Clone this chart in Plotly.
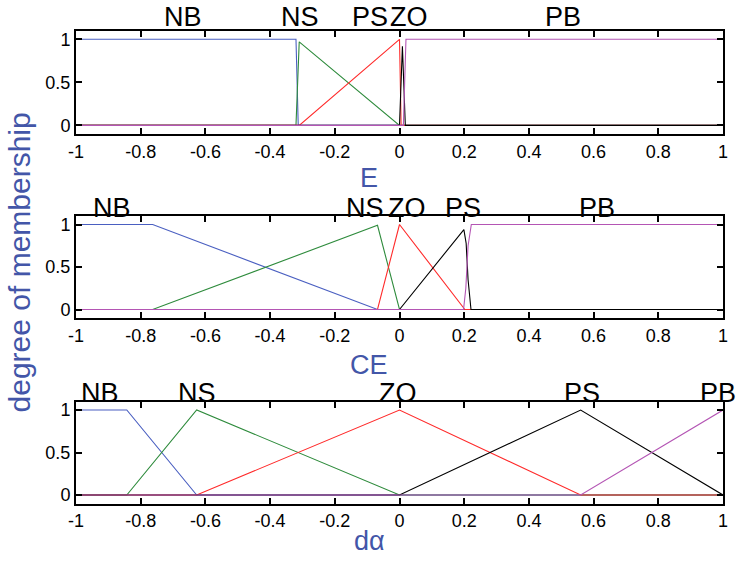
import plotly.graph_objects as go

# ---------------- data ----------------
x_ticks = [-1, -0.8, -0.6, -0.4, -0.2, 0, 0.2, 0.4, 0.6, 0.8, 1]
x_tick_text = ["-1", "-0.8", "-0.6", "-0.4", "-0.2", "0", "0.2", "0.4", "0.6", "0.8", "1"]
y_ticks = [0, 0.5, 1]
y_tick_text = ["0", "0.5", "1"]

# Panel 1: E
E_NB_x = [-1, -0.32, -0.313, 1];            E_NB_y = [1, 1, 0, 0]
E_NS_x = [-1, -0.32, -0.31, 0, 1];          E_NS_y = [0, 0, 0.97, 0, 0]
E_ZO_x = [-1, -0.31, 0, 0.005, 1];          E_ZO_y = [0, 0, 1, 0, 0]
E_PS_x = [-1, 0, 0.009, 0.018, 1];          E_PS_y = [0, 0, 0.92, 0, 0]
E_PB_x = [-1, 0.012, 0.02, 1];              E_PB_y = [0, 0, 1, 1]
E_labels = ["NB", "NS", "PS", "ZO", "PB"]
E_label_x = [-0.67, -0.307, -0.091, 0.029, 0.505]

# Panel 2: CE
CE_NB_x = [-1, -0.763, -0.068, 1];          CE_NB_y = [1, 1, 0, 0]
CE_NS_x = [-1, -0.763, -0.068, 0, 1];       CE_NS_y = [0, 0, 0.99, 0, 0]
CE_ZO_x = [-1, -0.068, 0, 0.202, 1];        CE_ZO_y = [0, 0, 1, 0, 0]
CE_PS_x = [-1, 0, 0.199, 0.206, 0.212, 0.221, 1]; CE_PS_y = [0, 0, 0.94, 0.78, 0.35, 0, 0]
CE_PB_x = [-1, 0.198, 0.205, 0.212, 0.222, 1];    CE_PB_y = [0, 0, 0.25, 0.75, 1, 1]
CE_labels = ["NB", "NS", "ZO", "PS", "PB"]
CE_label_x = [-0.889, -0.107, 0.023, 0.196, 0.61]

# Panel 3: d-alpha
D_NB_x = [-1, -0.843, -0.627, 1];           D_NB_y = [1, 1, 0, 0]
D_NS_x = [-1, -0.843, -0.627, 0, 1];        D_NS_y = [0, 0, 1, 0, 0]
D_ZO_x = [-1, -0.627, 0, 0.56, 1];          D_ZO_y = [0, 0, 1, 0, 0]
D_PS_x = [-1, 0, 0.56, 1];                  D_PS_y = [0, 0, 1, 0]
D_PB_x = [-1, 0.56, 1];                     D_PB_y = [0, 0, 1]
D_labels = ["NB", "NS", "ZO", "PS", "PB"]
D_label_x = [-0.926, -0.626, -0.005, 0.564, 0.985]

# ---------------- style ----------------
C_BLUE = "#4a5fc1"
C_GREEN = "#2e8b3c"
C_RED = "#ff2a2a"
C_BLACK = "#000000"
C_MAG = "#b455b4"
TITLE_BLUE = "#4356a8"
FONT = "Liberation Sans, Arial, sans-serif"

panels = [
    ("x", "y", [(E_NB_x, E_NB_y, C_BLUE), (E_NS_x, E_NS_y, C_GREEN), (E_ZO_x, E_ZO_y, C_RED),
                (E_PS_x, E_PS_y, C_BLACK), (E_PB_x, E_PB_y, C_MAG)], E_labels, E_label_x, 1.26),
    ("x2", "y2", [(CE_NB_x, CE_NB_y, C_BLUE), (CE_NS_x, CE_NS_y, C_GREEN), (CE_ZO_x, CE_ZO_y, C_RED),
                  (CE_PS_x, CE_PS_y, C_BLACK), (CE_PB_x, CE_PB_y, C_MAG)], CE_labels, CE_label_x, 1.19),
    ("x3", "y3", [(D_NB_x, D_NB_y, C_BLUE), (D_NS_x, D_NS_y, C_GREEN), (D_ZO_x, D_ZO_y, C_RED),
                  (D_PS_x, D_PS_y, C_BLACK), (D_PB_x, D_PB_y, C_MAG)], D_labels, D_label_x, 1.20),
]

fig = go.Figure()
annotations = []
for xa, ya, curves, labels, lab_x, lab_y in panels:
    for cx, cy, col in curves:
        fig.add_trace(go.Scatter(x=cx, y=cy, mode="lines", xaxis=xa, yaxis=ya,
                                 line=dict(color=col, width=1.1), showlegend=False,
                                 hoverinfo="skip"))
    for t, lx in zip(labels, lab_x):
        annotations.append(dict(text=t, x=lx, y=(lab_y + 0.1) / 1.2, xref=xa, yref=f"{ya} domain",
                                showarrow=False, xanchor="center", yanchor="middle",
                                font=dict(family=FONT, size=27, color="black")))

# axis titles
for txt, yy in [("E", 0.6844), ("CE", 0.3528), ("d\u03b1", 0.040)]:
    annotations.append(dict(text=txt, x=0.5, y=yy, xref="paper", yref="paper",
                            showarrow=False, xanchor="center", yanchor="middle",
                            font=dict(family=FONT, size=27, color=TITLE_BLUE)))
annotations.append(dict(text="degree of membership", x=0.026, y=0.535, xref="paper", yref="paper",
                        showarrow=False, textangle=-90, xanchor="center", yanchor="middle",
                        font=dict(family=FONT, size=30, color=TITLE_BLUE)))

xdom = [76 / 738, 723 / 738]
ydoms = [[1 - 134 / 564, 1 - 30.7 / 564], [1 - 318 / 564, 1 - 216 / 564], [1 - 503.5 / 564, 1 - 401.5 / 564]]

axis_common = dict(showgrid=False, zeroline=False, showline=True, linecolor="black", linewidth=2,
                   mirror="ticks", ticks="inside", ticklen=6, tickwidth=1.5, tickcolor="black",
                   automargin=False,
                   tickfont=dict(family=FONT, size=18, color="black"))

layout = dict(width=738, height=564, margin=dict(l=0, r=0, t=0, b=0, pad=0, autoexpand=False),
              paper_bgcolor="white", plot_bgcolor="white", annotations=annotations,
              showlegend=False)
for i, (xa, ya) in enumerate([("xaxis", "yaxis"), ("xaxis2", "yaxis2"), ("xaxis3", "yaxis3")]):
    anchor_y = "y" if i == 0 else f"y{i+1}"
    anchor_x = "x" if i == 0 else f"x{i+1}"
    layout[xa] = dict(domain=xdom, anchor=anchor_y, range=[-1, 1], tickvals=x_ticks,
                      ticktext=x_tick_text, **axis_common)
    layout[ya] = dict(domain=ydoms[i], anchor=anchor_x, range=[-0.1, 1.1], tickvals=y_ticks,
                      ticktext=y_tick_text, **axis_common)

fig.update_layout(**layout)
fig.write_html("out.html")
